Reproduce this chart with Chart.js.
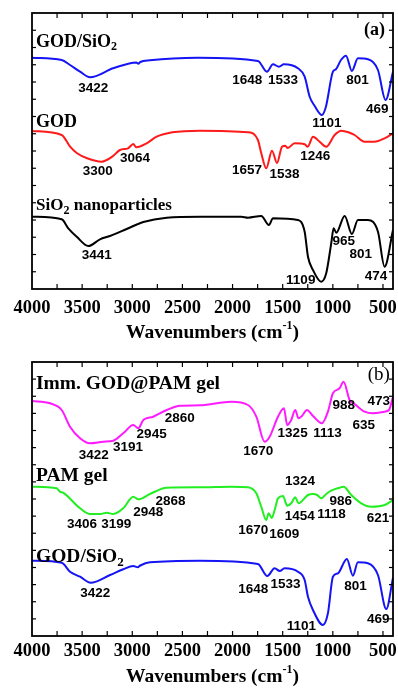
<!DOCTYPE html>
<html>
<head>
<meta charset="utf-8">
<script src="https://cdn.jsdelivr.net/npm/chart.js@4.4.0/dist/chart.umd.min.js"></script>
<style>
  html, body { margin: 0; padding: 0; background: #fff; }
  #chartA { position: absolute; left: 0; top: 0; }
  #chartB { position: absolute; left: 0; top: 350px; }
</style>
</head>
<body>
<canvas id="chartA" width="398" height="350"></canvas>
<canvas id="chartB" width="398" height="338"></canvas>
<script>
// x axis (wavenumber, reversed)
const tickValues = [4000, 3500, 3000, 2500, 2000, 1500, 1000, 500];
const tickLabels = ["4000", "3500", "3000", "2500", "2000", "1500", "1000", "500"];
const xTitle = ["Wavenumbers (cm", "-1", ")"];

// ---- panel (a) ----
const wnGodSiO2A = [4000, 3704, 3621, 3521, 3422, 3192, 2993, 2960, 2940, 2920, 2824, 2345, 1747, 1657, 1597, 1537, 1488, 1348, 1281, 1231, 1181, 1109, 1069, 999, 969, 919, 869, 810, 750, 650, 550, 474, 400];
const godSiO2A = [231.3, 229, 224, 217.3, 211.7, 220.7, 226.3, 226.5, 225.3, 227, 228.7, 231.3, 228, 217.3, 224.7, 222.3, 224.7, 220.7, 212.3, 192.3, 183, 174, 182.3, 217.3, 219.7, 229, 233.3, 218, 230.7, 229.7, 219, 189, 217.3];

const wnGod = [4000, 3704, 3620, 3554, 3450, 3305, 3200, 3123, 3043, 2990, 2960, 2857, 2757, 2600, 2325, 1846, 1747, 1714, 1664, 1607, 1557, 1507, 1475, 1450, 1381, 1281, 1250, 1198, 1132, 1066, 982, 916, 833, 783, 683, 584, 484, 400];
const god = [158, 154, 142.3, 136, 130.7, 127.3, 132.3, 139, 140.7, 145, 141.7, 145.7, 152.3, 156.7, 158.3, 156.7, 149, 136, 120.7, 138.3, 126, 142.3, 143.3, 141, 145.7, 144.7, 142.3, 152.3, 147.3, 142.3, 154, 158.3, 156.3, 154, 147.3, 147.3, 150.7, 155.7];

const wnSiO2 = [4000, 3704, 3638, 3554, 3438, 3322, 3222, 3056, 2890, 2657, 2325, 1913, 1846, 1714, 1637, 1597, 1348, 1281, 1248, 1198, 1116, 1066, 1016, 992, 966, 882, 810, 750, 650, 550, 484, 400];
const sio2 = [72.3, 69.7, 60.7, 52.3, 43, 49.7, 53, 60, 67, 71.3, 72.3, 72.3, 71.3, 73, 64, 70.7, 69, 57.3, 32.3, 19, 7.3, 15.7, 45.7, 60.7, 56.3, 73, 55, 69, 69, 57.3, 22.3, 59];

const namesA = [["GOD/SiO_2", 3960, 247], ["GOD", 3960, 166.7], ["SiO_2 nanoparticles", 3960, 83.3]];
const peaksA = [
  ["3422", 3389, 200.7], ["1648", 1854, 209], ["1533", 1498, 209], ["801", 755, 209], ["1101", 1059, 165.7], ["469", 558, 179.7],
  ["3300", 3345, 117.3], ["3064", 2973, 130.7], ["1657", 1856, 119], ["1538", 1481, 115], ["1246", 1175, 133],
  ["3441", 3355, 34], ["1109", 1320, 8.3], ["965", 891, 47.3], ["801", 722, 34.7], ["474", 570, 13]
];

// ---- panel (b) ----
const wnImm = [4000, 3821, 3704, 3621, 3521, 3422, 3289, 3189, 3090, 2990, 2940, 2890, 2791, 2657, 2524, 2325, 2013, 1846, 1763, 1680, 1630, 1547, 1488, 1455, 1415, 1375, 1342, 1308, 1258, 1198, 1109, 1049, 999, 933, 893, 833, 783, 683, 600, 484, 440, 400];
const imm = [235, 232.7, 226, 209.3, 197.7, 192.7, 194.3, 195.3, 202.7, 211, 207.7, 216, 219.3, 226, 230.3, 230.7, 234.3, 231, 219.3, 194.3, 199.3, 219.3, 227.7, 211, 216, 226, 217.7, 220, 226, 220, 212.7, 224.3, 242.7, 247.7, 254.3, 236, 232, 224.3, 222.7, 224.3, 226, 239.3];

const wnPam = [4000, 3754, 3721, 3690, 3521, 3422, 3322, 3255, 3189, 3090, 2990, 2940, 2824, 2657, 2325, 2013, 1846, 1763, 1714, 1664, 1640, 1609, 1580, 1547, 1497, 1455, 1415, 1375, 1342, 1248, 1198, 1155, 1116, 1066, 1016, 933, 893, 816, 716, 617, 484, 400];
const pam = [149.3, 147.7, 144.3, 143.3, 127.7, 122, 122, 123.3, 122, 127.7, 139.3, 136.7, 142, 148.3, 148.7, 149.3, 148.7, 142.7, 129.3, 116, 122.7, 118, 126, 137.7, 140, 130.3, 132.7, 138.7, 132.7, 141, 142, 141, 137.7, 142, 145.3, 148.3, 149.3, 141, 132.7, 129.3, 131, 136];

const wnGodSiO2B = [4000, 3704, 3621, 3521, 3415, 3222, 3090, 2990, 2945, 2920, 2824, 2325, 1747, 1654, 1580, 1530, 1482, 1348, 1281, 1248, 1198, 1099, 1049, 999, 949, 860, 800, 750, 650, 550, 467, 400];
const godSiO2B = [75.3, 73.3, 64.3, 59.3, 53.3, 61, 66.7, 70, 68.7, 70.5, 73.7, 75.3, 72, 60, 67.7, 65, 67.7, 64.3, 56, 39.3, 26, 11, 22.7, 59.3, 62.7, 77, 60.3, 73.7, 72.7, 61, 27, 58.3];

const namesB = [["Imm. GOD@PAM gel", 3960, 251.7], ["PAM gel", 3960, 160], ["GOD/SiO_2", 3960, 79.3]];
const peaksB = [
  ["3422", 3385, 181], ["3191", 3043, 188.7], ["2945", 2807, 201.7], ["2860", 2527, 217.7], ["1670", 1744, 184.3],
  ["1325", 1401, 202.7], ["1113", 1054, 202.7], ["988", 891, 231], ["635", 692, 211], ["473", 542, 234.3],
  ["3406", 3501, 112], ["3199", 3160, 112], ["2948", 2840, 124], ["2868", 2619, 135], ["1324", 1328, 154.3],
  ["986", 921, 135], ["1454", 1331, 119.3], ["1118", 1014, 122], ["621", 550, 117.7], ["1670", 1794, 106], ["1609", 1485, 102],
  ["3422", 3369, 42.7], ["1648", 1794, 46.7], ["1533", 1473, 52], ["801", 775, 50], ["1101", 1313, 10], ["469", 547, 17]
];

const SERIF = '"Liberation Serif", "Times New Roman", serif';
const SANS = '"Liberation Sans", Arial, sans-serif';

function pts(xs, ys) {
  return xs.map((x, i) => ({ x: x, y: ys[i] }));
}

function line(ctx, x1, y1, x2, y2) {
  ctx.beginPath();
  ctx.moveTo(x1, y1);
  ctx.lineTo(x2, y2);
  ctx.stroke();
}

// text with "_2" style subscripts
function drawRich(ctx, str, x, y, size) {
  const parts = str.split("_");
  let cx = x;
  parts.forEach((p, i) => {
    let s = p;
    if (i > 0) {
      const sub = p.charAt(0);
      s = p.slice(1);
      ctx.font = "bold " + Math.round(size * 0.68) + "px " + SERIF;
      ctx.fillText(sub, cx, y + size * 0.3);
      cx += ctx.measureText(sub).width;
    }
    ctx.font = "bold " + size + "px " + SERIF;
    ctx.fillText(s, cx, y);
    cx += ctx.measureText(s).width;
  });
}

const decorPlugin = {
  id: "decor",
  afterDatasetsDraw(chart, args, opts) {
    const { ctx, chartArea: a, scales } = chart;
    const x = scales.x, y = scales.y;
    ctx.save();
    ctx.strokeStyle = "#000";
    ctx.fillStyle = "#000";

    // inward ticks
    ctx.lineWidth = 1.2;
    for (let v = 3750; v >= 500; v -= 250) {
      const px = x.getPixelForValue(v);
      line(ctx, px, a.bottom, px, a.bottom - 5);
      line(ctx, px, a.top, px, a.top + 5);
    }
    const n = 16;
    for (let i = 1; i < n; i++) {
      const py = y.getPixelForValue(y.max * i / n);
      line(ctx, a.left, py, a.left + 4, py);
      line(ctx, a.right, py, a.right - 4, py);
    }
    // frame
    ctx.lineWidth = 1.8;
    ctx.strokeRect(a.left, a.top, a.right - a.left, a.bottom - a.top);

    // x tick labels
    ctx.textBaseline = "middle";
    ctx.textAlign = "center";
    ctx.font = "bold 18.5px " + SERIF;
    tickValues.forEach((v, i) => {
      ctx.fillText(tickLabels[i], x.getPixelForValue(v), a.bottom + opts.labelOffset);
    });

    // x title with superscript
    const big = "bold 19.5px " + SERIF, small = "bold 12px " + SERIF;
    ctx.font = big;
    const w0 = ctx.measureText(xTitle[0]).width, w2 = ctx.measureText(xTitle[2]).width;
    ctx.font = small;
    const w1 = ctx.measureText(xTitle[1]).width;
    let tx = (a.left + a.right) / 2 - (w0 + w1 + w2) / 2;
    const ty = a.bottom + opts.titleOffset;
    ctx.textAlign = "left";
    ctx.font = big;
    ctx.fillText(xTitle[0], tx, ty);
    tx += w0;
    ctx.font = small;
    ctx.fillText(xTitle[1], tx, ty - 7);
    tx += w1;
    ctx.font = big;
    ctx.fillText(xTitle[2], tx, ty);

    // series names
    opts.names.forEach(([t, wx, wy], i) => {
      drawRich(ctx, t, x.getPixelForValue(wx), y.getPixelForValue(wy), opts.nameSizes[i]);
    });

    // peak labels
    ctx.textAlign = "center";
    ctx.font = "bold 13.5px " + SANS;
    opts.peaks.forEach(([t, wx, wy]) => {
      ctx.fillText(t, x.getPixelForValue(wx), y.getPixelForValue(wy));
    });

    // panel letter
    ctx.font = opts.letterFont;
    ctx.fillText(opts.letter[0], x.getPixelForValue(opts.letter[1]), y.getPixelForValue(opts.letter[2]));
    ctx.restore();
  }
};

function makeChart(id, datasets, yMax, padTop, padBottom, decor) {
  return new Chart(document.getElementById(id), {
    type: "line",
    data: { datasets: datasets },
    plugins: [decorPlugin],
    options: {
      responsive: false,
      animation: false,
      layout: { padding: { left: 32, right: 5, top: padTop, bottom: padBottom } },
      plugins: { legend: { display: false }, tooltip: { enabled: false }, decor: decor },
      elements: { point: { radius: 0 }, line: { borderWidth: 2, cubicInterpolationMode: "monotone" } },
      scales: {
        x: {
          type: "linear",
          min: 400,
          max: 4000,
          reverse: true,
          grid: { display: false, drawTicks: false },
          border: { display: false },
          ticks: { display: false },
          title: { display: false }
        },
        y: { type: "linear", min: 0, max: yMax, display: false }
      }
    }
  });
}

makeChart("chartA", [
  { data: pts(wnGodSiO2A, godSiO2A), borderColor: "#1414f5" },
  { data: pts(wnGod, god), borderColor: "#ff1a1a" },
  { data: pts(wnSiO2, sio2), borderColor: "#000000" }
], 276, 13, 61, {
  names: namesA, nameSizes: [18, 18, 17], peaks: peaksA,
  letter: ["(a)", 585, 258.3], letterFont: "bold 18px " + SERIF,
  labelOffset: 19, titleOffset: 44
});

makeChart("chartB", [
  { data: pts(wnImm, imm), borderColor: "#ff1aff" },
  { data: pts(wnPam, pam), borderColor: "#22ee22" },
  { data: pts(wnGodSiO2B, godSiO2B), borderColor: "#1414f5" }
], 274, 12, 52, {
  names: namesB, nameSizes: [19.5, 19.5, 19.5], peaks: peaksB,
  letter: ["(b)", 542, 261], letterFont: "19px " + SERIF,
  labelOffset: 15.7, titleOffset: 41.3
});
</script>
</body>
</html>
